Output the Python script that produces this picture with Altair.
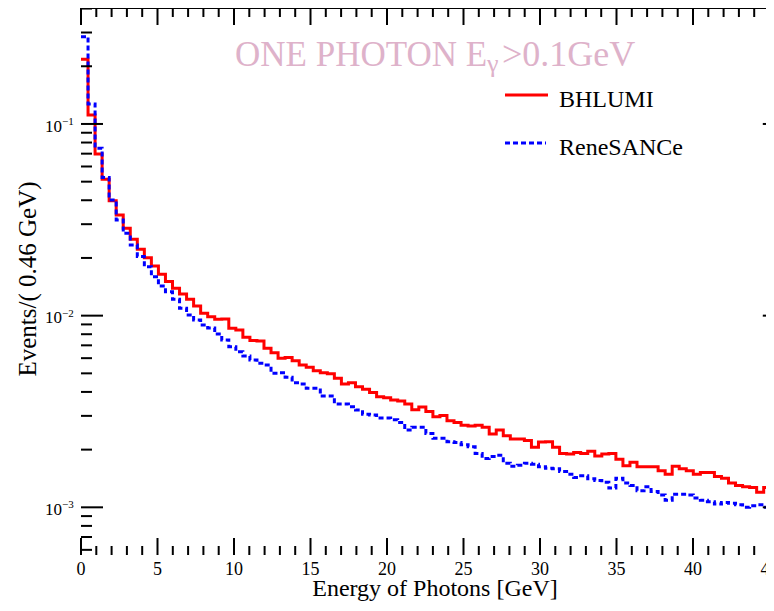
import altair as alt
import pandas as pd

FONT = "Liberation Serif"
BIN_WIDTH = 0.46

BHLUMI = [0.2175, 0.1114, 0.0697, 0.0515, 0.0398, 0.0335, 0.02857, 0.02503, 0.0222, 0.02007,
          0.01817, 0.01644, 0.01505, 0.0139, 0.01298, 0.01218, 0.01124, 0.01029, 0.00988, 0.00958,
          0.00961, 0.0086, 0.00842, 0.00772, 0.00741, 0.00738, 0.00676, 0.00641, 0.006, 0.00604,
          0.00582, 0.00553, 0.00538, 0.00516, 0.00504, 0.00497, 0.00472, 0.0044, 0.00447, 0.00426,
          0.00413, 0.00397, 0.00378, 0.00373, 0.00363, 0.00359, 0.00346, 0.00323, 0.00334, 0.00316,
          0.00297, 0.00301, 0.00283, 0.00277, 0.00268, 0.00266, 0.00268, 0.00262, 0.00241, 0.00253,
          0.00236, 0.00227, 0.00227, 0.00223, 0.00206, 0.00219, 0.0022, 0.00206, 0.00191, 0.0019,
          0.00193, 0.00191, 0.00196, 0.00185, 0.0019, 0.00191, 0.00178, 0.00165, 0.00172, 0.00163,
          0.00163, 0.00163, 0.00155, 0.00149, 0.00164, 0.00159, 0.00155, 0.00149, 0.00152, 0.00152,
          0.00145, 0.00142, 0.00134, 0.0013, 0.00128, 0.00127, 0.0012, 0.00127, 0.00128]

RENESANCE = [0.2854, 0.1272, 0.0747, 0.0525, 0.0401, 0.03156, 0.0269, 0.02337, 0.02032, 0.01801,
             0.01597, 0.01429, 0.01334, 0.01218, 0.01093, 0.01008, 0.0095, 0.00894, 0.00863, 0.00803,
             0.00747, 0.00689, 0.00649, 0.00616, 0.00587, 0.00564, 0.00553, 0.00501, 0.00504, 0.00477,
             0.00447, 0.0044, 0.00418, 0.00418, 0.00381, 0.00381, 0.00346, 0.00346, 0.00335, 0.00322,
             0.00306, 0.00303, 0.00292, 0.00292, 0.00286, 0.00277, 0.00253, 0.00262, 0.00262, 0.00243,
             0.00229, 0.00229, 0.0022, 0.00218, 0.00212, 0.00207, 0.00191, 0.0018, 0.00184, 0.00187,
             0.0017, 0.00164, 0.00166, 0.0017, 0.00168, 0.00163, 0.0016, 0.00159, 0.00154, 0.00149,
             0.00143, 0.00146, 0.00141, 0.00138, 0.00135, 0.00126, 0.00142, 0.00134, 0.0013, 0.00122,
             0.00128, 0.00121, 0.00116, 0.00109, 0.00117, 0.00117, 0.00116, 0.00112, 0.00109, 0.00107,
             0.00104, 0.00106, 0.00105, 0.00103, 0.001, 0.00102, 0.00103, 0.001, 0.00097]

X_MAJOR = [0, 5, 10, 15, 20, 25, 30, 35, 40, 45]
X_LABELS = ["0", "5", "10", "15", "20", "25", "30", "35", "40", "45"]
X_MINOR = [v for v in range(1, 46) if v % 5]
Y_MAJOR = [1e-1, 1e-2, 1e-3]
Y_EXP = ["\u22121", "\u22122", "\u22123"]
PX_PER_GEV = 15.3
W, H = 685, 547
X_DOMAIN = [0, W / PX_PER_GEV]
X_FRAME_RIGHT = 46 * PX_PER_GEV
Y_DOMAIN = [5.64e-4, 0.4027]
Y_MINOR = [m * 10.0 ** e for e in (-4, -3, -2, -1) for m in range(2, 10)
           if Y_DOMAIN[0] < m * 10.0 ** e < Y_DOMAIN[1]]


def hist_df(vals):
    xs_ = [i * BIN_WIDTH for i in range(len(vals))] + [len(vals) * BIN_WIDTH]
    ys_ = list(vals) + [vals[-1]]
    return pd.DataFrame({"x": xs_, "v": ys_})


xs = alt.Scale(domain=X_DOMAIN, nice=False, zero=False)
ys = alt.Scale(type="log", domain=Y_DOMAIN, nice=False)

red = alt.Chart(hist_df(BHLUMI)).mark_line(
    interpolate="step-after", color="#ff0000", strokeWidth=3, clip=True
).encode(
    x=alt.X("x:Q", scale=xs, axis=alt.Axis(
        labels=False, ticks=False, tickSize=0, grid=False,
        domainWidth=2, domainColor="black", title=None)),
    y=alt.Y("v:Q", scale=ys, axis=alt.Axis(
        labels=False, ticks=False, tickSize=0, grid=False, domainWidth=2,
        domainColor="black", title=None)),
)

blue = alt.Chart(hist_df(RENESANCE)).mark_line(
    interpolate="step-after", color="#0000ff", strokeWidth=3, strokeDash=[5, 3], clip=True
).encode(
    x=alt.X("x:Q", scale=xs, axis=None),
    y=alt.Y("v:Q", scale=ys, axis=None),
)


def xticks(vals, y0, y1):
    return alt.Chart(pd.DataFrame({"t": vals})).mark_rule(color="black", strokeWidth=2).encode(
        x=alt.X("t:Q", scale=xs, axis=None), y=alt.value(y0), y2=alt.value(y1))


def yticks(vals, x0, x1):
    return alt.Chart(pd.DataFrame({"t": vals})).mark_rule(color="black", strokeWidth=2).encode(
        y=alt.Y("t:Q", scale=ys, axis=None), x=alt.value(x0), x2=alt.value(x1))


ticks = [
    xticks(X_MAJOR, H, H - 17), xticks(X_MINOR, H, H - 9),
    xticks(X_MAJOR, 0, 17), xticks(X_MINOR, 0, 9),
    yticks(Y_MAJOR, 0, 22), yticks(Y_MINOR, 0, 11),
    yticks(Y_MAJOR, X_FRAME_RIGHT - 22, X_FRAME_RIGHT),
]

top_frame = alt.Chart(pd.DataFrame({"a": [0]})).mark_rule(color="black", strokeWidth=2).encode(
    x=alt.value(0), x2=alt.value(W), y=alt.value(0))

xlab = alt.Chart(pd.DataFrame({"t": X_MAJOR, "s": X_LABELS})).mark_text(
    align="center", baseline="alphabetic", font=FONT, fontSize=18, color="black"
).encode(x=alt.X("t:Q", scale=xs, axis=None), y=alt.value(H + 20), text="s:N")

ylab_df = pd.DataFrame({"t": Y_MAJOR, "base": ["10"] * 3, "exp": Y_EXP})
ylab_base = alt.Chart(ylab_df).mark_text(
    align="right", baseline="alphabetic", font=FONT, fontSize=17, dy=7.6, color="black"
).encode(x=alt.value(-19), y=alt.Y("t:Q", scale=ys, axis=None), text="base:N")
ylab_exp = alt.Chart(ylab_df).mark_text(
    align="left", baseline="alphabetic", font=FONT, fontSize=11, dy=1, color="black"
).encode(x=alt.value(-19), y=alt.Y("t:Q", scale=ys, axis=None), text="exp:N")


def label(txt, x, y, size, color="black", align="left", baseline="alphabetic", angle=0):
    kw = dict(align=align, baseline=baseline, font=FONT, fontSize=size, color=color)
    if angle:
        kw["angle"] = angle
    return alt.Chart(pd.DataFrame({"s": [txt]})).mark_text(**kw).encode(
        text="s:N", x=alt.value(x), y=alt.value(y))


PINK = "#deb2ca"
texts = [
    label("ONE PHOTON E", 154, 58, 35, PINK),
    label("\u03b3", 406, 64, 26, PINK),
    label(">0.1GeV", 421, 58, 36, PINK),
    label("BHLUMI", 478, 99, 24),
    label("ReneSANCe", 478, 147, 24),
    label("Energy of Photons [GeV]", 354, 588, 24, align="center"),
    label("Events/( 0.46 GeV)", -53, 271, 25, align="center", baseline="middle", angle=270),
]

leg_red = alt.Chart(pd.DataFrame({"a": [0]})).mark_rule(color="#ff0000", strokeWidth=3).encode(
    x=alt.value(424), x2=alt.value(467), y=alt.value(87))
leg_blue = alt.Chart(pd.DataFrame({"a": [0]})).mark_rule(
    color="#0000ff", strokeWidth=3, strokeDash=[5, 3]).encode(
    x=alt.value(424), x2=alt.value(465), y=alt.value(135))

chart = alt.layer(
    red, blue, *ticks, top_frame, xlab, ylab_base, ylab_exp, *texts, leg_red, leg_blue
).properties(
    width=W, height=H,
    padding={"left": 73, "top": 0, "right": 0, "bottom": 46},
    autosize=alt.AutoSizeParams(type="none"),
    background="white",
).configure_view(stroke=None)

chart.save("out.html", embed_options={"renderer": "svg", "actions": False})
